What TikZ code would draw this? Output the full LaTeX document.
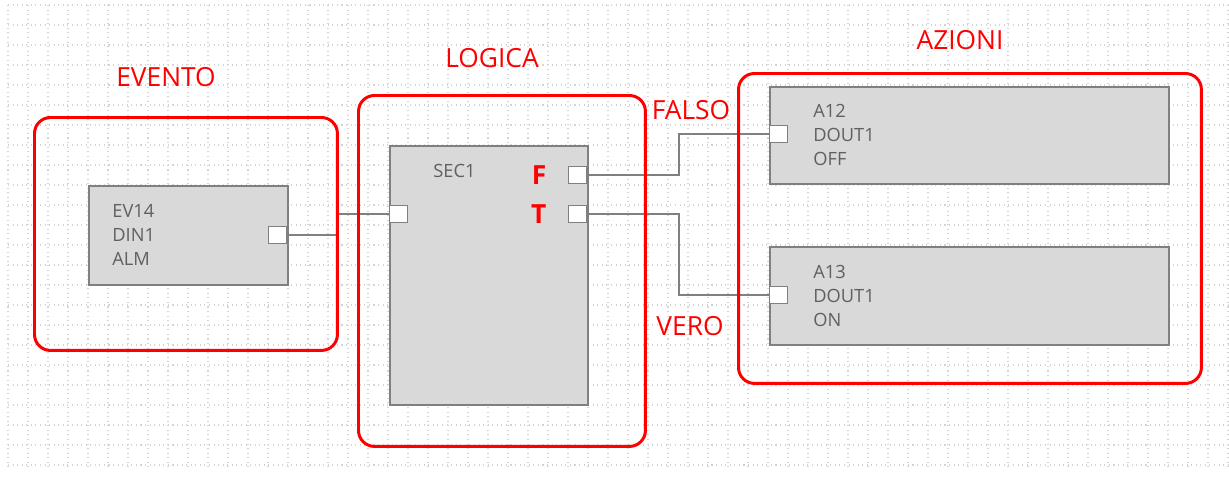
\documentclass[tikz,border=0pt]{standalone}
\usepackage{fontspec}
\setmainfont{Open Sans}
\definecolor{AlRed}{HTML}{FF0000}
\definecolor{AlGray}{HTML}{D9D9D9}
\definecolor{AlEdge}{HTML}{808080}
\definecolor{AlText}{HTML}{606060}
\definecolor{AlGrid}{HTML}{D4D4D4}
\usepackage{tikz}
\usetikzlibrary{positioning}

\begin{document}
\begin{tikzpicture}[x=0.02cm, y=-0.02cm,
    gridline/.style={AlGrid, line width=0.6pt, dotted},
    group/.style={draw=AlRed, line width=1.7pt, rounded corners=0.32cm, anchor=north west, inner sep=0},
    block/.style={draw=AlEdge, fill=AlGray, line width=1pt, anchor=north west, inner sep=0},
    port/.style={draw=AlEdge, fill=white, line width=0.8pt, minimum width=0.36cm, minimum height=0.34cm, inner sep=0},
    wire/.style={AlEdge, line width=0.8pt},
    tag/.style={text=AlText, align=left, anchor=west, inner sep=0, font=\fontsize{10.4}{13.6}\selectfont},
    title/.style={text=AlRed, font=\fontsize{15}{18}\selectfont},
    pin/.style={text=AlRed, font=\fontsize{15}{18}\selectfont\bfseries}]
    \useasboundingbox (0,0) rectangle (1229,477);
    \foreach \gx in {8,28,...,1228} \draw[gridline] (\gx,5) -- (\gx,470);
    \foreach \gy in {5,25,...,465} \draw[gridline] (8,\gy) -- (1228,\gy);

    \node[block, minimum width=3.98cm, minimum height=1.98cm] (ev) at (88,185) {};
    \node[block, minimum width=3.96cm, minimum height=5.18cm] (sec) at (389,145) {};
    \node[block, minimum width=7.98cm, minimum height=1.94cm] (a12) at (769,86) {};
    \node[block, minimum width=7.98cm, minimum height=1.96cm] (a13) at (769,246) {};

    \node[tag] (evtxt) at (112,235) {EV14\\DIN1\\ALM};
    \node[tag] (sectxt) at (433,171) {SEC1};
    \node[tag] (a12txt) at (813,135) {A12\\DOUT1\\OFF};
    \node[tag] (a13txt) at (813,296) {A13\\DOUT1\\ON};

    \node[port, anchor=east] (evout) at (287,235) {};
    \node[port, anchor=west] (secin) at (389,214) {};
    \node[port, anchor=east] (fout) at (587,175) {};
    \node[port, anchor=east] (tout) at (587,214) {};
    \node[port, anchor=west] (a12in) at (769,134) {};
    \node[port, anchor=west] (a13in) at (769,295) {};
    \node[pin, left=0.3cm of fout] (flbl) {F};
    \node[pin, left=0.3cm of tout] (tlbl) {T};

    \draw[wire] (evout.east) -- ++(51,0) |- (secin.west);
    \draw[wire] (fout.east) -- ++(92,0) |- (a12in.west);
    \draw[wire] (tout.east) -- ++(92,0) |- (a13in.west);

    \node[group, minimum width=6.06cm, minimum height=4.66cm] (evento) at (33,116) {};
    \node[group, minimum width=5.74cm, minimum height=7.02cm] (logica) at (357,94) {};
    \node[group, minimum width=9.26cm, minimum height=6.2cm] (azioni) at (737,72) {};

    \node[title] (evtitle) at (166,77) {EVENTO};
    \node[title] (lgtitle) at (492,58) {LOGICA};
    \node[title] (aztitle) at (960,40) {AZIONI};
    \node[title] (falso) at (691,110) {FALSO};
    \node[title] (vero) at (690,326) {VERO};
\end{tikzpicture}
\end{document}
